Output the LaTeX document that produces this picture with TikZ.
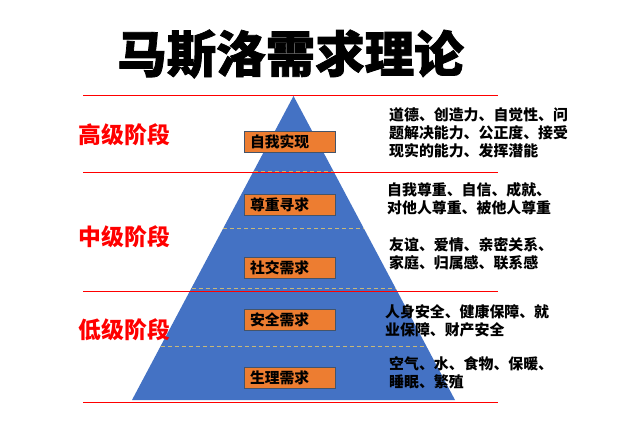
\documentclass[tikz,border=0pt]{standalone}
\usepackage{fontspec}
\newfontfamily\cjk{Noto Sans CJK SC}
\newfontfamily\titlefont{Noto Sans CJK SC}[BoldFeatures={FakeBold=1.5}]
\usetikzlibrary{calc}
\definecolor{pyrblue}{HTML}{4472C4}
\definecolor{boxorange}{HTML}{ED7D31}
\definecolor{boxedge}{HTML}{44546A}
\definecolor{dashcol}{HTML}{C8B878}
\tikzset{
  redline/.style={draw=red, line width=0.9pt},
  levelbox/.style={rectangle, fill=boxorange, draw=boxedge, line width=0.8pt,
    minimum height=21pt, inner xsep=6pt, inner ysep=0pt, text width=79pt, align=left,
    font=\cjk\bfseries\fontsize{14.8}{16}\selectfont},
  stagelabel/.style={text=red, font=\cjk\bfseries\fontsize{22.8}{26}\selectfont, inner sep=0pt},
  desc/.style={anchor=west, align=left, inner sep=0pt,
    font=\cjk\bfseries\fontsize{14.9}{18}\selectfont},
  layerdash/.style={draw=dashcol, dashed, dash pattern=on 4pt off 3pt, line width=0.8pt}
}
\begin{document}
\begin{tikzpicture}[x=1pt,y=-1pt]
\useasboundingbox (0,0) rectangle (639,437);
\fill[white] (0,0) rectangle (639,437);
% title
\node[font=\titlefont\bfseries\fontsize{49.5}{52}\selectfont, inner sep=0pt] (title) at (290.5,54) {马斯洛需求理论};
% pyramid
\coordinate (apex) at (293.5,96);
\coordinate (bl) at (132,400);
\coordinate (br) at (455,400);
\fill[pyrblue] (apex) -- (bl) -- (br) -- cycle;
% dashed layer borders
\foreach \yy in {171,228,288,346}{
  \pgfmathsetmacro{\t}{(\yy-96)/304}
  \draw[layerdash] ($(apex)!\t!(bl)$) -- ($(apex)!\t!(br)$);
}
% red lines
\coordinate (r1a) at (83,95);  \coordinate (r1b) at (498,95);
\coordinate (r2a) at (83,172); \coordinate (r2b) at (498,172);
\coordinate (r3a) at (83,291); \coordinate (r3b) at (498,291);
\coordinate (r4a) at (83,402); \coordinate (r4b) at (498,402);
\draw[redline] (r1a) -- (r1b);
\draw[redline] (r2a) -- (r2b);
\draw[redline] (r3a) -- (r3b);
\draw[redline] (r4a) -- (r4b);
% stage labels
\node[stagelabel] (s1) at (124.5,135) {高级阶段};
\node[stagelabel] (s2) at (124.5,237) {中级阶段};
\node[stagelabel] (s3) at (124.5,330) {低级阶段};
% level boxes
\node[levelbox] (b1) at (289.5,141.5) {自我实现};
\node[levelbox] (b2) at (289.5,204.5) {尊重寻求};
\node[levelbox] (b3) at (289.5,268) {社交需求};
\node[levelbox] (b4) at (289.5,320) {安全需求};
\node[levelbox] (b5) at (289.5,377.5) {生理需求};
% descriptions
\node[desc] (d1) at (389,133) {道德、创造力、自觉性、问\\题解决能力、公正度、接受\\现实的能力、发挥潜能};
\node[desc] (d2) at (387,199) {自我尊重、自信、成就、\\对他人尊重、被他人尊重};
\node[desc] (d3) at (389,253.5) {友谊、爱情、亲密关系、\\家庭、归属感、联系感};
\node[desc] (d4) at (385,320.5) {人身安全、健康保障、就\\业保障、财产安全};
\node[desc] (d5) at (389,372.5) {空气、水、食物、保暖、\\睡眠、繁殖};
\end{tikzpicture}
\end{document}
